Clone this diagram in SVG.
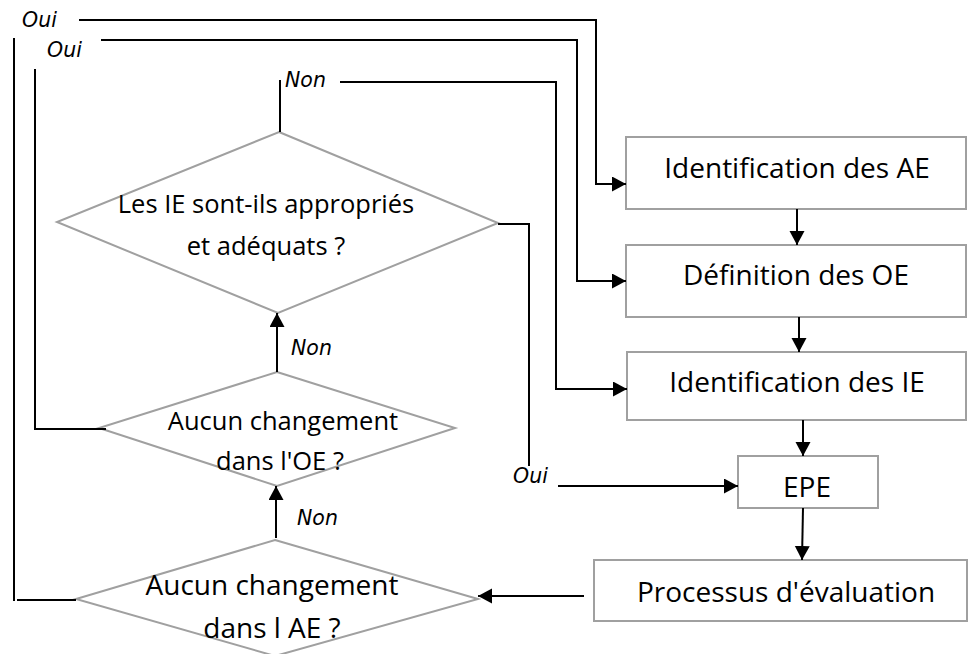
<svg xmlns="http://www.w3.org/2000/svg" width="968" height="654" viewBox="0 0 968 654">
  <style>
    .box { fill: #ffffff; stroke: #a0a0a0; stroke-width: 2; }
    .dia { fill: none; stroke: #a0a0a0; stroke-width: 2; }
    .ln { fill: none; stroke: #000000; stroke-width: 2; }
    .arr { fill: none; stroke: #000000; stroke-width: 2; marker-end: url(#head); }
    .t { font-family: "Open Sans", "Noto Sans", sans-serif; font-size: 28px; fill: #000000; text-anchor: middle; }
    .ts { font-size: 25.5px; }
    .lbl { font-family: "DejaVu Sans", sans-serif; font-style: italic; font-size: 20.5px; fill: #000000; }
  </style>
  <defs>
    <marker id="head" markerUnits="userSpaceOnUse" markerWidth="15" markerHeight="16" refX="14" refY="7.5" orient="auto">
      <path d="M0,0 L14,7.5 L0,15 Z" fill="#000000"/>
    </marker>
  </defs>

  <!-- process boxes -->
  <g id="identification-ae">
    <rect class="box" x="626" y="137" width="340" height="72"/>
    <text class="t" x="797" y="178">Identification des AE</text>
  </g>
  <g id="definition-oe">
    <rect class="box" x="626" y="245" width="340" height="72"/>
    <text class="t" x="796" y="285">Définition des OE</text>
  </g>
  <g id="identification-ie">
    <rect class="box" x="627" y="352" width="339" height="68"/>
    <text class="t" x="797" y="392">Identification des IE</text>
  </g>
  <g id="epe">
    <rect class="box" x="738" y="456" width="140" height="52"/>
    <text class="t" x="807" y="497">EPE</text>
  </g>
  <g id="processus-evaluation">
    <rect class="box" x="594" y="560" width="373" height="61"/>
    <text class="t" x="786" y="602">Processus d'évaluation</text>
  </g>

  <!-- decision diamonds -->
  <g id="ie-appropries">
    <polygon class="dia" points="279,132 498,223 278,313 57,222"/>
    <text class="t ts" x="266" y="213">Les IE sont-ils appropriés</text>
    <text class="t ts" x="266" y="255">et adéquats ?</text>
  </g>
  <g id="changement-oe">
    <polygon class="dia" points="277,372 455,428 277,486 99,428"/>
    <text class="t ts" x="283" y="430">Aucun changement</text>
    <text class="t ts" x="280" y="470">dans l'OE ?</text>
  </g>
  <g id="changement-ae">
    <polygon class="dia" points="275,540 478,599 275,656 76,599"/>
    <text class="t" x="272" y="595">Aucun changement</text>
    <text class="t" x="272" y="638">dans l AE ?</text>
  </g>

  <!-- connectors -->
  <g id="connectors">
    <path class="arr" d="M79,20 H596 V184 H626"/>
    <path class="arr" d="M101,40 H577 V281 H626"/>
    <path class="ln" d="M280,80 V132"/>
    <path class="arr" d="M340,82 H556 V389 H627"/>
    <path class="ln" d="M498,224 H529 V466"/>
    <path class="arr" d="M558,486 H738"/>
    <path class="ln" d="M14,38 V601"/>
    <path class="ln" d="M17,600 H76"/>
    <path class="ln" d="M35,69 V429 H106"/>
    <path class="arr" d="M277,372 V313"/>
    <path class="arr" d="M276,538 V486"/>
    <path class="arr" d="M797,209 V245"/>
    <path class="arr" d="M799,317 V352"/>
    <path class="arr" d="M803,420 V456"/>
    <path class="arr" d="M803,508 L802,560"/>
    <path class="arr" d="M584,596 H478"/>

    <text class="lbl" x="22" y="27">Oui</text>
    <text class="lbl" x="47" y="57">Oui</text>
    <text class="lbl" x="285" y="87">Non</text>
    <text class="lbl" x="291" y="355">Non</text>
    <text class="lbl" x="297" y="525">Non</text>
    <text class="lbl" x="513" y="483">Oui</text>
  </g>
</svg>
